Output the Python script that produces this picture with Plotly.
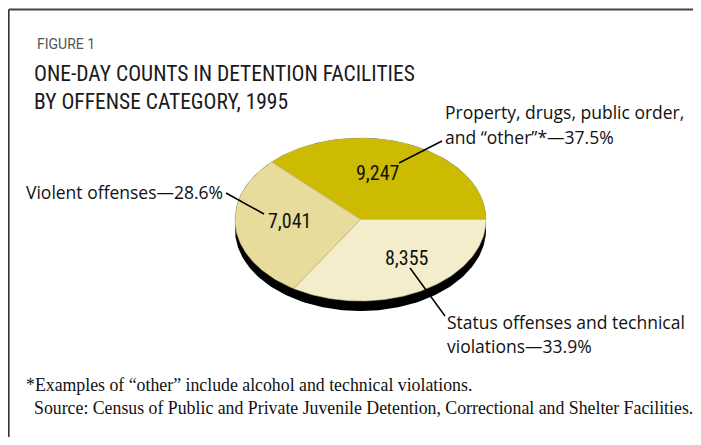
import numpy as np
import plotly.graph_objects as go

# One-day counts, 1995
categories = ["Property, drugs, public order, and “other”*", "Violent offenses", "Status offenses and technical violations"]
counts = [9247, 7041, 8355]
colors = ["#CCBB00", "#E8DC9C", "#F4EDCC"]

# the page body has an 8px margin, so the figure is drawn inside it
# and the axes are set so one unit is one pixel of the window
PAD = 8
W, H = 701, 445

cx, cy = 360.5, 219.5     # pie centre
rx, ry = 125.5, 81.5      # ellipse radii (tilted pie)
depth = 10                # thickness of the pie edge

sans = "Open Sans, Roboto, sans-serif"
narrow = "Roboto Condensed, Liberation Sans Narrow, Roboto, sans-serif"
serif = "Liberation Serif, DejaVu Serif, serif"

fig = go.Figure()

# dark edge of the pie: top half of the face + bottom half pushed down
t_top = np.linspace(0, np.pi, 120)
t_bot = np.linspace(np.pi, 2 * np.pi, 120)
ex = np.concatenate([cx + rx * np.cos(t_top), cx + rx * np.cos(t_bot)])
ey = np.concatenate([cy - ry * np.sin(t_top), cy + depth - ry * np.sin(t_bot)])
fig.add_trace(go.Scatter(x=ex, y=ey, fill="toself", mode="lines",
                         line=dict(color="#000000", width=0), fillcolor="#000000",
                         hoverinfo="skip", showlegend=False))

# slices, counter-clockwise from 3 o'clock
total = sum(counts)
start = 0.0
for name, v, c in zip(categories, counts, colors):
    sweep = 2 * np.pi * v / total
    t = np.linspace(start, start + sweep, 100)
    xs = np.concatenate([[cx], cx + rx * np.cos(t), [cx]])
    ys = np.concatenate([[cy], cy - ry * np.sin(t), [cy]])
    fig.add_trace(go.Scatter(x=xs, y=ys, fill="toself", mode="lines",
                             line=dict(color="#C9BE84", width=0.6), fillcolor=c,
                             name=name, hoverinfo="name", showlegend=False))
    start += sweep

pct = [100 * v / total for v in counts]

# value labels on the slices
value_pos = [(377, 173), (289, 221), (407, 258)]
for v, (x, y) in zip(counts, value_pos):
    fig.add_annotation(x=x, y=y, text=f"{v:,}", showarrow=False,
                       font=dict(family=narrow, size=20, color="#111111"),
                       xanchor="center", yanchor="middle")

# category labels
lab_font = dict(family=sans, size=17.5, weight=500, color="#111111")


def label(x, y, text, anchor="left"):
    fig.add_annotation(x=x, y=y, text=text, showarrow=False,
                       xanchor=anchor, yanchor="middle", font=lab_font)


label(443, 112, "Property, drugs, public order,")
label(443, 137, f"and “other”*—{pct[0]:.1f}%")
label(225, 192, f"Violent offenses—{pct[1]:.1f}%", anchor="right")
label(445, 322, "Status offenses and technical")
label(445, 346, f"violations—{pct[2]:.1f}%")

# leader lines
for x0, y0, x1, y1 in [(399, 163, 442, 141), (226, 193, 264, 214), (410, 268, 445, 316)]:
    fig.add_shape(type="line", x0=x0, y0=y0, x1=x1, y1=y1, xref="x", yref="y",
                  line=dict(color="#000000", width=1.5))

# titles
fig.add_annotation(x=35, y=44, text="FIGURE 1", showarrow=False, xanchor="left", yanchor="middle",
                   font=dict(family="Roboto, sans-serif", size=14, color="#555555"))
fig.add_annotation(x=32, y=87, text="ONE-DAY COUNTS IN DETENTION FACILITIES<br>BY OFFENSE CATEGORY, 1995",
                   showarrow=False, align="left", xanchor="left", yanchor="middle",
                   font=dict(family=narrow, size=21.5, color="#1a1a1a"))

# notes
fig.add_annotation(x=24, y=385, text="*Examples of “other” include alcohol and technical violations.",
                   showarrow=False, xanchor="left", yanchor="middle",
                   font=dict(family=serif, size=17.8, color="#111111"))
fig.add_annotation(x=32, y=408,
                   text="Source: Census of Public and Private Juvenile Detention, Correctional and Shelter Facilities.",
                   showarrow=False, xanchor="left", yanchor="middle",
                   font=dict(family=serif, size=17.8, color="#111111"))

# frame: top and left rules
edge = PAD + 0.8
fig.add_shape(type="line", x0=edge, y0=9.5, x1=W, y1=9.5, xref="x", yref="y", line=dict(color="#444444", width=2))
fig.add_shape(type="line", x0=edge, y0=9.5, x1=edge, y1=H, xref="x", yref="y", line=dict(color="#333333", width=1.6))

fig.update_layout(
    width=W - 2 * PAD, height=H - 2 * PAD,
    margin=dict(l=0, r=0, t=0, b=0),
    paper_bgcolor="white", plot_bgcolor="white",
    xaxis=dict(range=[PAD, W - PAD], visible=False, fixedrange=True),
    yaxis=dict(range=[H - PAD, PAD], visible=False, fixedrange=True),
    showlegend=False,
)

fig.write_html("out.html")
